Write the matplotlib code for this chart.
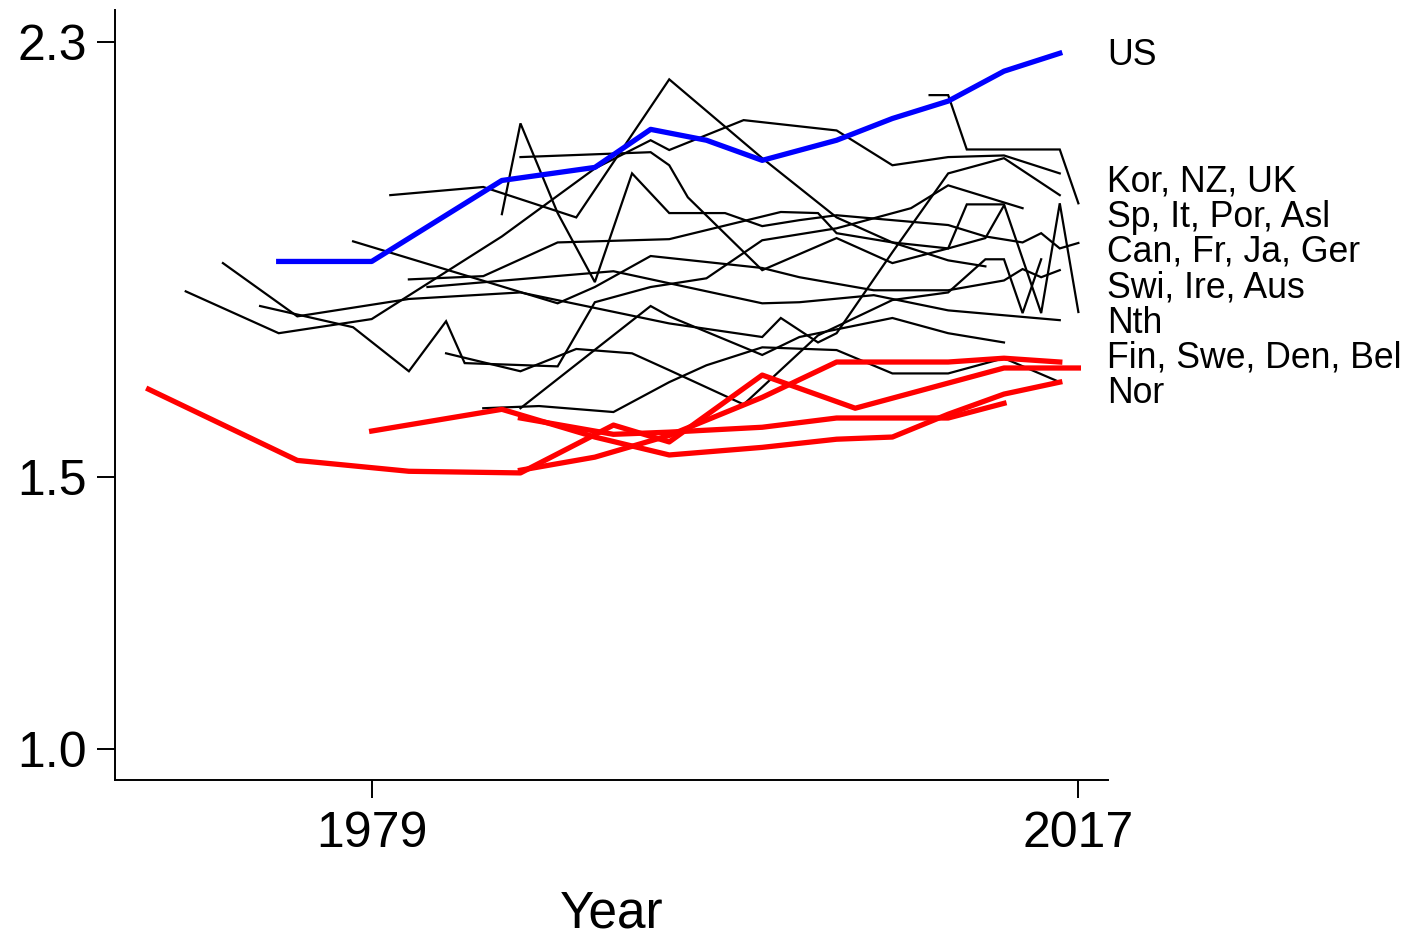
import matplotlib
matplotlib.use("Agg")
import matplotlib.pyplot as plt
import matplotlib.transforms as mtransforms

plt.rcParams["font.family"] = ["Liberation Sans", "DejaVu Sans"]

# US (blue)
us_years = [1974, 1979, 1986, 1991, 1994, 1997, 2000, 2004, 2007, 2010, 2013, 2016]
us_vals = [1.897, 1.897, 2.046, 2.070, 2.140, 2.120, 2.083, 2.120, 2.160, 2.192, 2.247, 2.280]

# Nordic / Benelux countries (red)
red_series = [
    ([1967, 1975, 1981, 1987, 1992, 1995, 2000, 2005, 2013, 2017],
     [1.662, 1.531, 1.511, 1.508, 1.596, 1.565, 1.688, 1.627, 1.701, 1.701]),
    ([1987, 1991, 1995, 2000, 2004, 2010, 2013, 2016],
     [1.513, 1.537, 1.577, 1.647, 1.712, 1.712, 1.719, 1.712]),
    ([1979, 1986, 1991, 1995, 2000, 2004, 2007, 2010, 2013, 2016],
     [1.585, 1.625, 1.574, 1.541, 1.555, 1.570, 1.574, 1.616, 1.653, 1.675]),
    ([1987, 1992, 1995, 2000, 2004, 2007, 2010, 2013],
     [1.609, 1.579, 1.583, 1.592, 1.609, 1.609, 1.609, 1.636]),
]

# other countries (black)
black_series = [
    ([1969, 1974, 1979, 1986, 1991, 1994, 1995, 1999, 2004, 2007, 2010, 2013, 2016],
     [1.842, 1.765, 1.791, 1.943, 2.068, 2.120, 2.102, 2.157, 2.138, 2.074, 2.089, 2.092, 2.059]),
    ([2009, 2010, 2011, 2016, 2017],
     [2.203, 2.203, 2.103, 2.103, 2.004]),
    ([1980, 1985, 1990, 1995, 2000, 2004, 2007, 2010, 2011, 2013, 2015, 2016, 2017],
     [2.019, 2.034, 1.978, 2.232, 2.087, 1.978, 1.932, 1.921, 2.002, 2.002, 1.802, 2.004, 1.804]),
    ([1986, 1987, 1989, 1991, 1993, 1995, 1998, 2000, 2002, 2004, 2010, 2012, 2014, 2015, 2016, 2017],
     [1.984, 2.151, 1.986, 1.859, 2.059, 1.986, 1.986, 1.962, 1.973, 1.982, 1.964, 1.943, 1.932, 1.949, 1.921, 1.931]),
    ([1987, 1994, 1995, 1996, 2000, 2004, 2007, 2010, 2012, 2013],
     [2.089, 2.098, 2.074, 2.015, 1.881, 1.940, 1.894, 1.921, 1.940, 2.000]),
    ([1971, 1975, 1981, 1987, 1995, 2000, 2001, 2003, 2004, 2007, 2010, 2013, 2016],
     [1.894, 1.796, 1.828, 1.840, 1.783, 1.758, 1.793, 1.748, 1.765, 1.914, 2.059, 2.087, 2.019]),
    ([1973, 1978, 1981, 1983, 1984, 1989, 1991, 1994, 1997, 2000, 2004, 2008, 2010, 2014],
     [1.815, 1.776, 1.695, 1.787, 1.710, 1.704, 1.822, 1.850, 1.866, 1.936, 1.958, 1.995, 2.037, 1.995]),
    ([1983, 1987, 1990, 1993, 1995, 1999, 2003, 2007, 2010, 2012, 2013, 2014, 2015],
     [1.728, 1.695, 1.736, 1.728, 1.697, 1.634, 1.761, 1.826, 1.840, 1.901, 1.901, 1.802, 1.901]),
    ([1985, 1988, 1992, 1995, 1997, 2000, 2004, 2007, 2010, 2013, 2016],
     [1.627, 1.631, 1.620, 1.675, 1.706, 1.739, 1.734, 1.691, 1.691, 1.719, 1.675]),
    ([1987, 1994, 1995, 2000, 2002, 2007, 2010, 2013],
     [1.627, 1.815, 1.796, 1.725, 1.758, 1.793, 1.765, 1.748]),
    ([1982, 1992, 2000, 2002, 2006, 2010, 2016],
     [1.850, 1.879, 1.820, 1.822, 1.835, 1.807, 1.789]),
    ([1978, 1989, 1991, 1994, 2000, 2002, 2006, 2010, 2013, 2014, 2015, 2016],
     [1.934, 1.820, 1.850, 1.907, 1.885, 1.868, 1.844, 1.844, 1.862, 1.883, 1.868, 1.881]),
    ([1981, 1985, 1989, 1995, 2001, 2003, 2004, 2007, 2010, 2012],
     [1.864, 1.870, 1.932, 1.938, 1.988, 1.986, 1.949, 1.932, 1.899, 1.888]),
]

# labels on the right
group_labels = ["US", "Kor, NZ, UK", "Sp, It, Por, Asl", "Can, Fr, Ja, Ger",
                "Swi, Ire, Aus", "Nth", "Fin, Swe, Den, Bel", "Nor"]
group_label_y = [2.276, 2.043, 1.978, 1.914, 1.848, 1.783, 1.719, 1.655]

fig = plt.figure(figsize=(14.1, 9.38), dpi=100)
ax = fig.add_axes([0.0816, 0.1684, 0.7043, 0.8206])

for yrs, vals in black_series:
    ax.plot(yrs, vals, color="black", lw=1.6, solid_joinstyle="miter")
for yrs, vals in red_series:
    ax.plot(yrs, vals, color="#ff0000", lw=3.8)
ax.plot(us_years, us_vals, color="#0000ff", lw=3.8)

ax.set_xlim(1965.2, 2018.6)
ax.set_ylim(0.943, 2.359)
ax.set_xticks([1979, 2017])
ax.set_yticks([1.0, 1.5, 2.3])
ax.set_yticklabels(["1.0", "1.5", "2.3"])
ax.tick_params(axis="both", direction="out", length=13, width=1.4,
               labelsize=36, pad=7)
ax.tick_params(axis="x", pad=9)
for side in ["top", "right"]:
    ax.spines[side].set_visible(False)
for side in ["left", "bottom"]:
    ax.spines[side].set_linewidth(1.4)

ax.set_xlabel("Year", fontsize=37, labelpad=24)

trans = mtransforms.blended_transform_factory(ax.transAxes, ax.transData)
for lab, yv in zip(group_labels, group_label_y):
    ax.text(0.999, yv, lab, transform=trans, fontsize=25.7, ha="left", va="center")

fig.savefig("out.png", dpi=100)
